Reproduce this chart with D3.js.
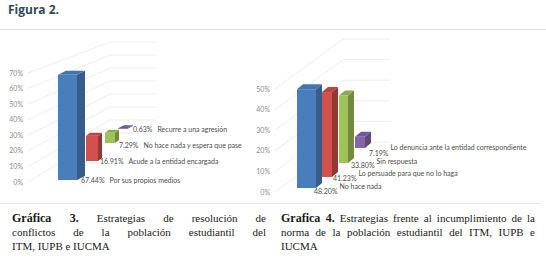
<!DOCTYPE html>
<html>
<head>
<meta charset="utf-8">
<script src="https://cdn.jsdelivr.net/npm/d3@7"></script>
<style>
  body { margin: 0; background: #fff; }
  #page { position: relative; width: 546px; height: 260px; overflow: hidden; }
</style>
</head>
<body>
<div id="page"></div>
<script>
// Gráfica 3 data
const cats3 = ["Por sus propios medios", "Acude a la entidad encargada",
               "No hace nada y espera que pase", "Recurre a una agresión"];
const vals3 = [67.44, 16.91, 7.29, 0.63];
const ticks3 = [0, 10, 20, 30, 40, 50, 60, 70];

// Gráfica 4 data
const cats4 = ["No hace nada", "Lo persuade para que no lo haga",
               "Sin respuesta", "Lo denuncia ante la entidad correspondiente"];
const vals4 = [48.20, 41.23, 33.80, 7.19];
const ticks4 = [0, 10, 20, 30, 40, 50];

// caption lines: [bold part, regular part]
const caption3 = [["Gráfica 3.", " Estrategias de resolución de"],
                  ["", "conflictos de la población estudiantil del"],
                  ["", "ITM, IUPB e IUCMA"]];
const caption4 = [["Grafica 4.", " Estrategias frente al incumplimiento de la"],
                  ["", "norma de la población estudiantil del ITM, IUPB e"],
                  ["", "IUCMA"]];

// front / side / top colours per series
const palette = [
  { front: "#4a7ebb", side: "#375c89", top: "#4274b0" },
  { front: "#d2504d", side: "#953835", top: "#b94441" },
  { front: "#9fc25b", side: "#718c3d", top: "#8cab4d" },
  { front: "#8466a8", side: "#5d4879", top: "#6e56a0" }
];

const page = d3.select("#page");
const svg = page.append("svg").attr("width", 546).attr("height", 260);

svg.append("text").attr("x", 8).attr("y", 14)
  .attr("font-family", "'Open Sans', sans-serif").attr("font-weight", "bold")
  .attr("font-size", 12).attr("fill", "#2f4a5a")
  .text("Figura 2.");

svg.append("line").attr("x1", 0).attr("x2", 546).attr("y1", 29.5).attr("y2", 29.5)
  .attr("stroke", "#e2e2e2");
svg.append("line").attr("x1", 0).attr("x2", 540).attr("y1", 203.5).attr("y2", 203.5)
  .attr("stroke", "#e6e6e6");

// one 3D column chart, bars receding in depth
function chart(cfg) {
  const g = svg.append("g");
  const idx = d3.range(cfg.values.length);

  const yFront = d3.scaleLinear().domain([0, cfg.max]).range(cfg.frontY);
  const yBack = d3.scaleLinear().domain([0, cfg.max]).range(cfg.backY);

  // walls
  cfg.ticks.forEach(t => {
    g.append("path")
      .attr("d", `M${cfg.wallX[0]},${yFront(t)}L${cfg.wallX[1]},${yBack(t)}L${cfg.wallX[2]},${yBack(t)}`)
      .attr("fill", "none").attr("stroke", "#e8e8e8").attr("stroke-width", 0.8);
  });

  g.selectAll(".tick").data(cfg.ticks).join("text")
    .attr("x", cfg.labelX).attr("y", t => yFront(t) + 2.5)
    .attr("text-anchor", "end")
    .attr("font-family", "Lato, sans-serif").attr("font-size", 7)
    .attr("fill", "#8c8c8c")
    .text(t => t + "%");

  // depth scales
  const baseX = d3.scaleLinear().domain(idx).range(cfg.baseX);
  const baseY = d3.scaleLinear().domain(idx).range(cfg.baseY);
  const w = d3.scaleLinear().domain(idx).range(cfg.width);
  const dx = d3.scaleLinear().domain(idx).range(cfg.depthX);
  const dy = d3.scaleLinear().domain(idx).range(cfg.depthY);
  const k = d3.scaleLinear().domain(idx).range(cfg.pxPer);

  const bars = idx.map(i => {
    const x0 = baseX(i), y0 = baseY(i), x1 = x0 + w(i), y1 = y0 - k(i) * cfg.values[i];
    return { i, x0, x1, y0, y1, dx: dx(i), dy: dy(i) };
  }).reverse();

  const bg = g.selectAll(".bar").data(bars).join("g");
  bg.append("path").attr("fill", d => palette[d.i].side)
    .attr("d", d => `M${d.x1},${d.y0}L${d.x1 + d.dx},${d.y0 - d.dy}L${d.x1 + d.dx},${d.y1 - d.dy}L${d.x1},${d.y1}Z`);
  bg.append("path").attr("fill", d => palette[d.i].top)
    .attr("d", d => `M${d.x0},${d.y1}L${d.x0 + d.dx},${d.y1 - d.dy}L${d.x1 + d.dx},${d.y1 - d.dy}L${d.x1},${d.y1}Z`);
  bg.append("rect").attr("fill", d => palette[d.i].front)
    .attr("x", d => d.x0).attr("y", d => d.y1)
    .attr("width", d => d.x1 - d.x0).attr("height", d => d.y0 - d.y1);

  // data labels
  const lab = g.selectAll(".lab").data(bars).join("text")
    .attr("font-family", "Lato, sans-serif").attr("font-size", 7).attr("fill", "#4d4d4d")
    .attr("x", d => d.x1 + cfg.labelDx[d.i]).attr("y", d => d.y0 + cfg.labelDy[d.i]);
  lab.append("tspan").text(d => cfg.values[d.i].toFixed(2) + "%");
  lab.append("tspan")
    .attr("dx", cfg.nameDx).attr("dy", d => cfg.nameDy[d.i])
    .text(d => cfg.cats[d.i]);
}

chart({
  values: vals3, cats: cats3, ticks: ticks3, max: 70,
  frontY: [182, 73], backY: [133, 42], wallX: [28, 110, 156], labelX: 23,
  baseX: [58, 86, 105, 118], baseY: [180, 161, 143, 129],
  width: [19, 12, 10, 9], depthX: [8, 4, 4, 6], depthY: [4, 3, 3, 3],
  pxPer: [1.56, 1.5, 1.4, 1.3],
  labelDx: [4, 2, 4, 6], labelDy: [3, 3, 5, 3],
  nameDx: 5, nameDy: [0, 0, 0, 0]
});

chart({
  values: vals4, cats: cats4, ticks: ticks4, max: 50,
  frontY: [192, 89], backY: [142, 39], wallX: [275, 343, 390], labelX: 270,
  baseX: [297, 322, 339, 355], baseY: [188, 177, 163, 148],
  width: [19, 10, 9, 10], depthX: [6, 6, 6, 6], depthY: [5, 5, 5, 5],
  pxPer: [2.05, 2.06, 2.0, 1.55],
  labelDx: [-2, 1, 3, 4], labelDy: [6, 4, 5, 8],
  nameDx: 2, nameDy: [-5, -5, -4, -6]
});

// captions: justified lines via word spacing (last line left as is)
const capW = 254;
[[caption3, 12], [caption4, 281]].forEach(([lines, x]) => {
  const cg = svg.append("g")
    .attr("font-family", "'Liberation Serif', serif").attr("font-size", 11).attr("fill", "#1a1a1a");
  lines.forEach((ln, j) => {
    const t = cg.append("text").attr("x", x).attr("y", 222 + j * 14);
    if (ln[0]) t.append("tspan").attr("font-weight", "bold").attr("font-size", 12).text(ln[0]);
    t.append("tspan").text(ln[1]);
    if (j < lines.length - 1) {
      const natural = t.node().getComputedTextLength();
      const gaps = (ln[0] + ln[1]).split(" ").length - 1;
      t.style("word-spacing", ((capW - natural) / gaps) + "px");
    }
  });
});
</script>
</body>
</html>
